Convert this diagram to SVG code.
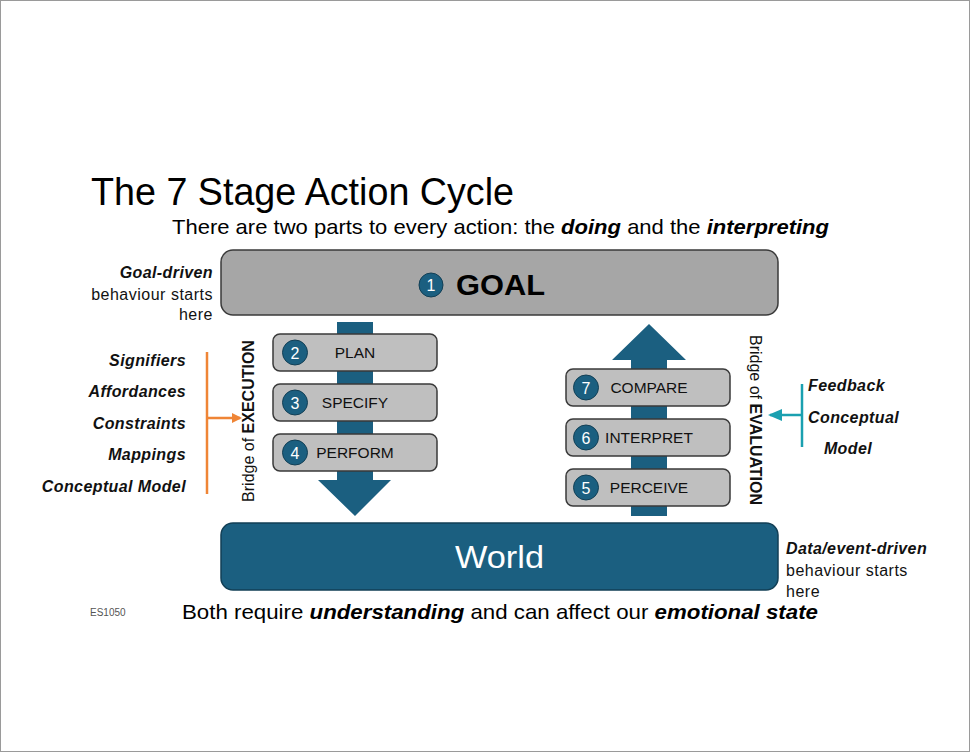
<svg xmlns="http://www.w3.org/2000/svg" width="970" height="752" viewBox="0 0 970 752">
<defs>
<style>
text{font-family:"Liberation Sans",Arial,sans-serif;}
.nar{font-family:"Liberation Sans Narrow","Liberation Sans",Arial,sans-serif;}
.lab{font-size:16px;fill:#111;letter-spacing:0.5px;}
.bi{font-weight:bold;font-style:italic;letter-spacing:0.4px;}
.step{fill:#bfbfbf;stroke:#3a3a3a;stroke-width:1.5;}
.num{fill:#1b5f80;stroke:#123f55;stroke-width:1;}
.numt{fill:#fff;font-size:16px;text-anchor:middle;}
.stept{font-size:15.5px;fill:#111;text-anchor:middle;}
.arr{fill:#1b5f80;}
</style>
<marker id="mo" markerWidth="10" markerHeight="10" refX="8" refY="5" orient="auto" markerUnits="userSpaceOnUse"><path d="M0,0 L10,5 L0,10 Z" fill="#ef8536"/></marker>
<marker id="mt" markerWidth="14" markerHeight="12" refX="12" refY="6" orient="auto" markerUnits="userSpaceOnUse"><path d="M0,0 L14,6 L0,12 Z" fill="#1aa0b0"/></marker>
</defs>
<rect x="0.5" y="0.5" width="969" height="751" fill="#fff" stroke="#9a9a9a" stroke-width="1"/>

<text class="nar" x="91" y="205" font-size="38" textLength="423" lengthAdjust="spacingAndGlyphs">The 7 Stage Action Cycle</text>
<text class="nar" x="172" y="234" font-size="21" textLength="657" lengthAdjust="spacingAndGlyphs">There are two parts to every action: the <tspan font-weight="bold" font-style="italic">doing</tspan> and the <tspan font-weight="bold" font-style="italic">interpreting</tspan></text>

<g id="arrows">
<path class="arr" d="M337,322 H373 V480 H391 L355,516 L318,480 H337 Z"/>
<path class="arr" d="M631,516 V360 H612 L649,324 L686,360 H667 V516 Z"/>
</g>

<g id="goal">
<rect x="221" y="250" width="557" height="65" rx="12" fill="#a6a6a6" stroke="#3a3a3a" stroke-width="1.5"/>
<circle class="num" cx="431" cy="285" r="12"/>
<text class="numt" x="431" y="290.5" font-size="15">1</text>
<text x="456" y="295" font-size="29" font-weight="bold" fill="#000" textLength="89" lengthAdjust="spacingAndGlyphs">GOAL</text>
</g>

<g id="world">
<rect x="221" y="523" width="557" height="67" rx="12" fill="#1b5f80" stroke="#123f55" stroke-width="1.5"/>
<text x="455" y="568" font-size="32" fill="#fff" class="nar" textLength="89" lengthAdjust="spacingAndGlyphs">World</text>
</g>

<g id="plan">
<rect class="step" x="273" y="334" width="164" height="37" rx="7"/>
<circle class="num" cx="295" cy="352.5" r="12.5"/>
<text class="numt" x="295" y="358.5">2</text>
<text class="stept" x="355" y="358">PLAN</text>
</g>
<g id="specify">
<rect class="step" x="273" y="384" width="164" height="37" rx="7"/>
<circle class="num" cx="295" cy="402.5" r="12.5"/>
<text class="numt" x="295" y="408.5">3</text>
<text class="stept" x="355" y="408">SPECIFY</text>
</g>
<g id="perform">
<rect class="step" x="273" y="434" width="164" height="37" rx="7"/>
<circle class="num" cx="295" cy="452.5" r="12.5"/>
<text class="numt" x="295" y="458.5">4</text>
<text class="stept" x="355" y="458">PERFORM</text>
</g>

<g id="compare">
<rect class="step" x="566" y="369" width="164" height="37" rx="7"/>
<circle class="num" cx="586" cy="387.5" r="12.5"/>
<text class="numt" x="586" y="393.5">7</text>
<text class="stept" x="649" y="393">COMPARE</text>
</g>
<g id="interpret">
<rect class="step" x="566" y="419" width="164" height="37" rx="7"/>
<circle class="num" cx="586" cy="437.5" r="12.5"/>
<text class="numt" x="586" y="443.5">6</text>
<text class="stept" x="649" y="443">INTERPRET</text>
</g>
<g id="perceive">
<rect class="step" x="566" y="469" width="164" height="37" rx="7"/>
<circle class="num" cx="586" cy="487.5" r="12.5"/>
<text class="numt" x="586" y="493.5">5</text>
<text class="stept" x="649" y="493">PERCEIVE</text>
</g>

<g id="bridge-exec">
<text transform="translate(254,421) rotate(-90)" text-anchor="middle" font-size="16" fill="#111">Bridge of <tspan font-weight="bold">EXECUTION</tspan></text>
</g>
<g id="bridge-eval">
<text transform="translate(750,420) rotate(90)" text-anchor="middle" font-size="16" fill="#111">Bridge of <tspan font-weight="bold">EVALUATION</tspan></text>
</g>

<g id="connectors">
<line x1="207" y1="352" x2="207" y2="494" stroke="#ef8536" stroke-width="2.5"/>
<line x1="207" y1="418" x2="240" y2="418" stroke="#ef8536" stroke-width="2.5" marker-end="url(#mo)"/>
<line x1="802" y1="384" x2="802" y2="447" stroke="#1aa0b0" stroke-width="2.5"/>
<line x1="802" y1="415" x2="770" y2="415" stroke="#1aa0b0" stroke-width="2.5" marker-end="url(#mt)"/>
</g>

<g id="exec-factors" text-anchor="end">
<text x="186" y="366" class="lab bi">Signifiers</text>
<text x="186" y="397" class="lab bi">Affordances</text>
<text x="186" y="429" class="lab bi">Constraints</text>
<text x="186" y="460" class="lab bi">Mappings</text>
<text x="186" y="492" class="lab bi">Conceptual Model</text>
</g>

<g id="eval-factors">
<text x="808" y="391" class="lab bi">Feedback</text>
<text x="808" y="423" class="lab bi">Conceptual</text>
<text x="848" y="454" class="lab bi" text-anchor="middle">Model</text>
</g>

<g id="goal-note" text-anchor="end">
<text x="213" y="278" class="lab bi">Goal-driven</text>
<text x="213" y="300" class="lab">behaviour starts</text>
<text x="213" y="320" class="lab">here</text>
</g>

<g id="data-note">
<text x="786" y="554" class="lab bi">Data/event-driven</text>
<text x="786" y="576" class="lab">behaviour starts</text>
<text x="786" y="597" class="lab">here</text>
</g>

<text class="nar" x="90" y="616" font-size="10" fill="#555">ES1050</text>
<text class="nar" x="182" y="619" font-size="21" textLength="636" lengthAdjust="spacingAndGlyphs">Both require <tspan font-weight="bold" font-style="italic">understanding</tspan> and can affect our <tspan font-weight="bold" font-style="italic">emotional state</tspan></text>
</svg>
